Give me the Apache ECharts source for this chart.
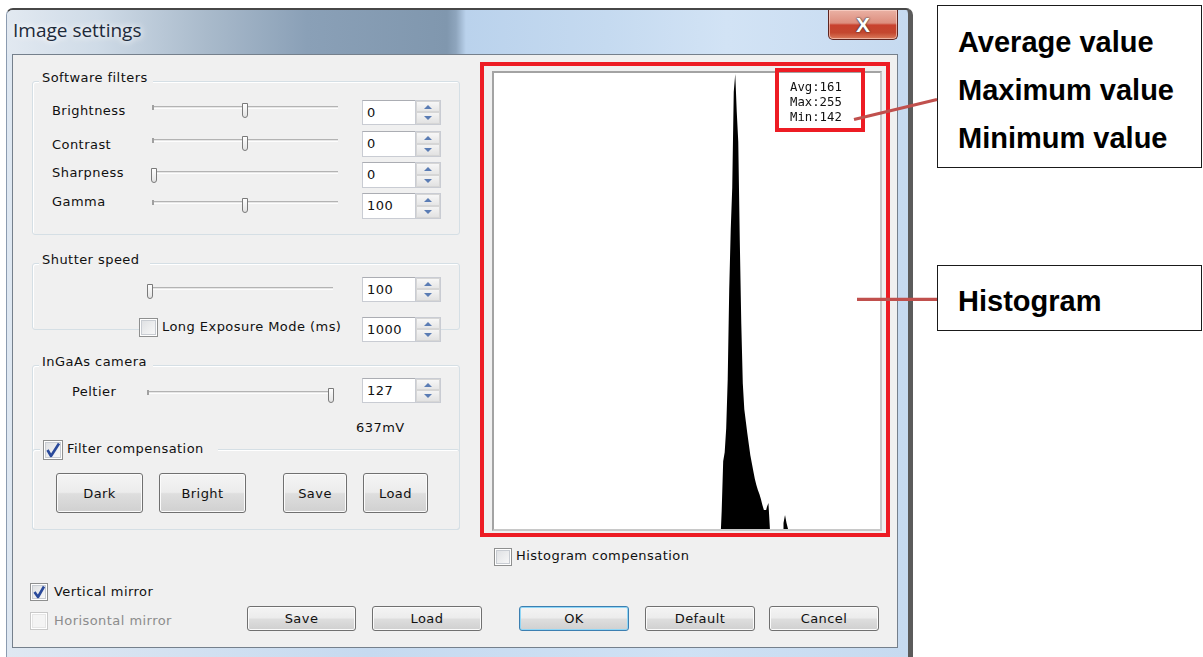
<!DOCTYPE html>
<html><head><meta charset="utf-8">
<script src="https://cdn.jsdelivr.net/npm/echarts@6.0.0/dist/echarts.min.js"></script>
<style>
html,body{margin:0;padding:0;background:#fff;width:1203px;height:657px;overflow:hidden;position:relative;}
.a{position:absolute;box-sizing:border-box;}
.t{position:absolute;font-family:"DejaVu Sans",sans-serif;font-size:13px;letter-spacing:0.45px;color:#111;white-space:nowrap;line-height:16px;}
.btn{position:absolute;box-sizing:border-box;border:1px solid #707070;border-radius:3px;
 background:linear-gradient(#f4f4f4 0%,#ececec 48%,#dedede 52%,#d0d0d0 100%);box-shadow:inset 0 0 0 1px #fbfbfb;
 display:flex;align-items:center;justify-content:center;font-family:"DejaVu Sans",sans-serif;font-size:13px;letter-spacing:0.45px;color:#111;}
.ann{position:absolute;font-family:"Liberation Sans",Arial,sans-serif;font-weight:bold;font-size:29px;color:#000;white-space:nowrap;line-height:29px;}
</style></head><body>
<script>
// ---- histogram data (grey level -> pixel count) ----
const grayLevels  = [151,152,153,154,155,156,157,158,159,160,161,162,163,164,165,166,167,168,169,170,
                     171,172,173,174,175,176,177,178,179,180,181,182,192,193,194];
const pixelCounts = [18,68,77,101,150,240,300,342,438,456,418,388,290,206,146,120,108,96,85,74,
                     66,58,50,44,39,35,30,24,19,19,22,26,6,14,6];
const statNames  = ['Avg','Max','Min'];
const statValues = [161,255,142];
const levelCount = 256;

// ---- UI helpers ----
function box(x,y,w,h,css){const d=document.createElement('div');d.className='a';
 d.style.cssText='left:'+x+'px;top:'+y+'px;width:'+w+'px;height:'+h+'px;'+(css||'');document.body.appendChild(d);return d;}
function text(x,cy,s,css){const d=document.createElement('div');d.className='t';d.textContent=s;
 d.style.left=x+'px';d.style.top=(cy-8)+'px';if(css)d.style.cssText+=css;document.body.appendChild(d);return d;}
function btn(x1,y1,x2,y2,label,css){const d=document.createElement('div');d.className='btn';d.textContent=label;
 d.style.cssText+='left:'+x1+'px;top:'+y1+'px;width:'+(x2-x1)+'px;height:'+(y2-y1)+'px;'+(css||'');document.body.appendChild(d);return d;}
function group(x,y,w,h,title,tx2){box(x,y,w,h,'border:1px solid #d5dfe5;border-radius:3px;box-shadow:inset 1px 1px 0 #fff;');
 if(title){box(39,y-8,tx2-39,16,'background:#f0f0f0');text(42,y-3,title);}}
function slider(x1,x2,ty,tx){
 box(x1,ty-1,x2-x1,3,'border-top:1px solid #b3b3b3;background:#e6e6e6;border-bottom:1px solid #fdfdfd;');
 box(x1,ty-2,2,5,'background:#a0a0a0');
 box(tx-3,ty-4,6,15,'border:1px solid #7a7a7a;border-radius:0 0 3px 3px;background:linear-gradient(#fefefe,#e3e3e3);');
}
function tri(cx,cy,up){box(cx-4,cy-2,8,4,'width:0;height:0;border-left:4px solid transparent;border-right:4px solid transparent;'+
 (up?'border-bottom:4px solid #5a7cb4;':'border-top:4px solid #5a7cb4;'));}
function spin(y1,y2,val){const x=362,h=y2-y1;
 box(x,y1,54,h,'background:#fff;border:1px solid #c9ccd3;border-top-color:#abadb3;border-right:none;');
 text(x+5,(y1+y2)/2,val);
 box(415,y1,26,h,'border:1px solid #c9ccd3;background:#f3f3f3');
 const hh=Math.floor((h-2)/2);
 box(416,y1+1,24,hh,'background:linear-gradient(#f7f7f7,#e6e6e6);border:1px solid #d6d6d6;');
 box(416,y1+1+hh,24,h-2-hh,'background:linear-gradient(#f4f4f4,#e2e2e2);border:1px solid #d6d6d6;');
 tri(428,y1+1+hh/2,true);tri(428,y1+1+hh+(h-2-hh)/2,false);
}
function check(x,y,s,checked,disabled){
 const b=box(x,y,s,s,'border:1px solid '+(disabled?'#c9c9c9':'#8e8f8f')+';background:'+(disabled?'#f4f4f4':'linear-gradient(135deg,#dcdee1,#fbfbfb)')+
   ';box-shadow:inset 0 0 0 1px #fff, inset 0 0 0 2px '+(disabled?'#e6e6e6':'#c8ccd2')+';');
 if(checked){b.innerHTML='<svg width="'+s+'" height="'+s+'" style="position:absolute;left:-1px;top:-1px"><path d="M4.5 '+(s*0.5)+' L8 '+(s-4)+' L'+(s-4)+' 3.5" stroke="#2a4a9b" stroke-width="2.6" fill="none" stroke-linejoin="round"/></svg>';}
}

// ---- window frame ----
box(6,8,907,660,'border-top:2px solid #474747;border-left:1px solid #8b9bb0;border-right:5px solid #5b5b5b;border-radius:7px 7px 0 0;'+
 'background:linear-gradient(to right,#dfe8f2,#c6daf0 40%,#cfe1f4 75%,#c6daf0);');
box(7,10,901,44,'border-radius:6px 6px 0 0;'+
 'background:linear-gradient(to right,#e2e9f1 0px,#cfdbe7 90px,#a9bacb 200px,#8aa0b7 300px,#8097ae 440px,#8ea5bd 449px,#bad2ec 459px,#c5daf0 600px,#d2e3f5 720px,#c6daf0 900px);');
const tt=document.createElement('div');tt.textContent='Image settings';
tt.style.cssText='position:absolute;left:13px;top:21px;font-family:"Open Sans","Noto Sans",sans-serif;font-size:19px;line-height:19px;color:#1d2a3a;white-space:nowrap;text-shadow:0 0 6px #fff,0 0 10px rgba(255,255,255,0.9);';
document.body.appendChild(tt);
// close button
const cb=box(828,10,70,30,'border:1px solid #5d2520;border-top:none;border-radius:0 0 5px 5px;'+
 'background:linear-gradient(#eab1a4 0%,#dd8e7e 45%,#c8412e 52%,#c4472f 78%,#da7b5c 100%);box-shadow:inset 0 0 0 1px rgba(255,220,210,0.6);'+
 'display:flex;align-items:center;justify-content:center;font-family:"Liberation Sans",Arial,sans-serif;font-weight:bold;font-size:21px;color:#fff;text-shadow:0 0 1px #333,0 0 2px #333;');
cb.textContent='X';
// client area
box(12,54,886,594,'background:#f0f0f0;border:1px solid #75808c;');

// ---- Software filters ----
group(32,81,428,154,'Software filters',153);
const sf=[['Brightness',111,107,244.5,'0',100,125],['Contrast',144.5,140,244.5,'0',131,157],
          ['Sharpness',173,172,154,'0',162,188],['Gamma',202,202,244.5,'100',193,219]];
sf.forEach(r=>{text(52,r[1],r[0]);slider(152,338,r[2],r[3]);spin(r[5],r[6],r[4]);});

// ---- Shutter speed ----
group(32,263,428,67,'Shutter speed',150);
slider(147,333,288,149.5);spin(277,302,'100');
box(139,317,224,21,'background:#f0f0f0');
check(139,318,19,false,false);text(162,327,'Long Exposure Mode (ms)');
spin(317,342,'1000');

// ---- InGaAs camera ----
group(32,365,428,165,'InGaAs camera',153);
text(72,392,'Peltier');slider(147,333,392,331);spin(378,403,'127');
text(356,428,'637mV');
box(32,449,428,81,'border:1px solid #d5dfe5;border-radius:3px;box-shadow:inset 1px 1px 0 #fff;');
box(40,440,178,21,'background:#f0f0f0');
check(43,440,20,true,false);text(67,449,'Filter compensation');
btn(56,473,143,513,'Dark');btn(159,473,246,513,'Bright');btn(283,473,347,513,'Save');btn(363,473,428,513,'Load');

// ---- histogram frame ----
box(480,62,410,475,'border:4px solid #ed1c24;');
box(492,71,390,460,'border:2px solid #a3a3a3;border-right-color:#c8c8c8;border-bottom-color:#c8c8c8;background:#fff;');
</script>
<div id="hist" style="position:absolute;left:494px;top:73px;width:386px;height:456px;z-index:2;"></div>
<script>
// small red box round the statistics
box(775,68,90,64,'border:4px solid #ed1c24;z-index:5;');

// ---- lower controls ----
check(494,548,18,false,false);text(516,556,'Histogram compensation');
check(30,583,18,true,false);text(54,592,'Vertical mirror');
check(30,612,18,false,true);text(54,621,'Horisontal mirror','color:#8c8c8c;');
btn(247,606,356,631,'Save');btn(372,606,482,631,'Load');
btn(519,606,629,631,'OK','border-color:#3c7fb1;box-shadow:inset 0 0 0 1px #8fd6f6;');
btn(645,606,755,631,'Default');btn(769,606,879,631,'Cancel');

// ---- annotations ----
box(937,5,265,163,'border:1px solid #1a1a1a;background:#fff;');
box(937,265,265,66,'border:1px solid #1a1a1a;background:#fff;');
[['Average value',42],['Maximum value',90],['Minimum value',138]].forEach(r=>{
 const d=document.createElement('div');d.className='ann';d.textContent=r[0];d.style.left='958px';d.style.top=(r[1]-14)+'px';document.body.appendChild(d);});
const hd=document.createElement('div');hd.className='ann';hd.textContent='Histogram';hd.style.left='958px';hd.style.top=(301-14)+'px';document.body.appendChild(hd);
const sv=document.createElementNS('http://www.w3.org/2000/svg','svg');
sv.setAttribute('width','1203');sv.setAttribute('height','657');
sv.style.cssText='position:absolute;left:0;top:0;z-index:10;pointer-events:none;';
sv.innerHTML='<line x1="854" y1="119.5" x2="937" y2="99.5" stroke="#c0504d" stroke-width="3.3"/>'+
             '<line x1="857" y1="299.3" x2="937" y2="299.3" stroke="#c0504d" stroke-width="3.3"/>';
document.body.appendChild(sv);

// ---- histogram chart ----
const levels = Array.from({length: levelCount}, (_, i) => String(i));
const counts = new Array(levelCount).fill(0);
grayLevels.forEach((g, k) => { counts[g] = pixelCounts[k]; });
const chart = echarts.init(document.getElementById('hist'));
chart.setOption({
  animation: false,
  backgroundColor: '#fff',
  grid: {left: 0, right: 0, top: 0, bottom: 0},
  xAxis: {type: 'category', data: levels, boundaryGap: true, show: false},
  yAxis: {type: 'value', min: 0, max: 457, show: false},
  series: [{
    type: 'line', step: 'middle', data: counts, symbol: 'none',
    lineStyle: {width: 0, opacity: 0},
    areaStyle: {color: '#000', opacity: 1}
  }],
  graphic: statNames.map((n, i) => ({
    type: 'text', x: 296, y: 15.3 + 15 * i, z: 10,
    style: {text: n + ':' + statValues[i], font: '12.3px "DejaVu Sans Mono"', fill: '#111', verticalAlign: 'middle', align: 'left'}
  }))
});
</script>
</body></html>
